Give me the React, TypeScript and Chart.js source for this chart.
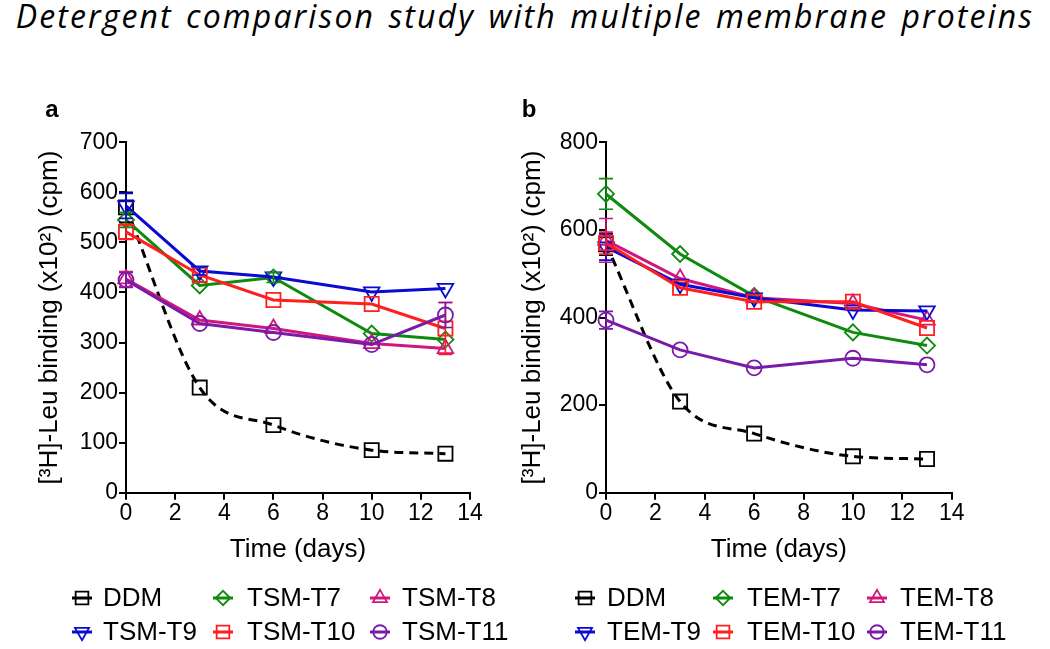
import React, { useEffect, useRef } from "react";
import { Chart, registerables } from "chart.js";
import { drawPoint } from "chart.js/helpers";

Chart.register(...registerables);

// ---------------- DATA ----------------
const days = [0, 3, 6, 10, 13];

const namesA = ["DDM", "TSM-T7", "TSM-T8", "TSM-T9", "TSM-T10", "TSM-T11"];
const namesB = ["DDM", "TEM-T7", "TEM-T8", "TEM-T9", "TEM-T10", "TEM-T11"];

// Panel a (TSM) values, x10^2 cpm
const ddmA = [570, 210, 135, 85, 78];
const tsmT7 = [545, 414, 430, 318, 306];
const tsmT8 = [427, 345, 328, 298, 288];
const tsmT9 = [573, 443, 431, 401, 408];
const tsmT10 = [521, 435, 385, 377, 328];
const tsmT11 = [425, 338, 320, 296, 355];

// Panel a error bars (±)
const ddmAErr = [30, 0, 0, 0, 0];
const tsmT7Err = [15, 0, 10, 0, 0];
const tsmT8Err = [15, 0, 0, 0, 0];
const tsmT9Err = [25, 8, 0, 0, 0];
const tsmT10Err = [15, 0, 0, 0, 52];
const tsmT11Err = [15, 0, 0, 0, 25];

// Panel b (TEM) values
const ddmB = [567, 208, 135, 83, 77];
const temT7 = [682, 545, 449, 366, 336];
const temT8 = [576, 489, 445, 432, 394];
const temT9 = [561, 476, 445, 417, 415];
const temT10 = [570, 468, 436, 436, 376];
const temT11 = [394, 326, 285, 307, 292];

// Panel b error bars (±)
const ddmBErr = [25, 0, 0, 0, 0];
const temT7Err = [35, 0, 0, 0, 0];
const temT8Err = [50, 0, 0, 0, 0];
const temT9Err = [30, 0, 0, 0, 0];
const temT10Err = [25, 0, 0, 0, 0];
const temT11Err = [20, 0, 0, 0, 0];

const xMin = 0;
const xMax = 14;
const xStep = 2;
const yMaxA = 700;
const yStepA = 100;
const yMaxB = 800;
const yStepB = 200;

const titleText = "Detergent comparison study with multiple membrane proteins";
const xTitle = "Time (days)";
const yTitle = "[³H]-Leu binding (x10²) (cpm)";

// ---------------- STYLES ----------------
const FONT = "'Liberation Sans', Arial, sans-serif";
const seriesStyles = [
  { color: "#000000", pointStyle: "rect", radius: 10, rotation: 0, dash: [9, 6], smooth: true },
  { color: "#0e8a0e", pointStyle: "rectRot", radius: 8, rotation: 0, dash: [], smooth: false },
  { color: "#d1167c", pointStyle: "triangle", radius: 9, rotation: 0, dash: [], smooth: false },
  { color: "#0a0ad2", pointStyle: "triangle", radius: 9, rotation: 180, dash: [], smooth: false },
  { color: "#ff1f1f", pointStyle: "rect", radius: 10, rotation: 0, dash: [], smooth: false },
  { color: "#7a1aa8", pointStyle: "circle", radius: 7.5, rotation: 0, dash: [], smooth: false },
];

function buildDatasets(names: string[], values: number[][], errs: number[][]) {
  return names.map((name, i) => {
    const s = seriesStyles[i];
    return {
      label: name,
      data: days.map((d, j) => ({ x: d, y: values[i][j] })),
      errors: errs[i],
      borderColor: s.color,
      borderWidth: 3,
      borderDash: s.dash,
      pointStyle: s.pointStyle,
      pointRadius: s.radius,
      pointRotation: s.rotation,
      pointBorderWidth: 1.8,
      pointBorderColor: s.color,
      pointBackgroundColor: "rgba(0,0,0,0)",
      cubicInterpolationMode: s.smooth ? "monotone" : "default",
      tension: 0,
      clip: false,
      order: 6 - i,
    };
  });
}

const errorBarPlugin = {
  id: "errorBars",
  afterDatasetsDraw(chart: any) {
    const { ctx } = chart;
    const xs = chart.scales.x;
    const ys = chart.scales.y;
    chart.data.datasets.forEach((ds: any) => {
      const errs = ds.errors as number[] | undefined;
      if (!errs) return;
      ctx.save();
      ctx.strokeStyle = ds.borderColor;
      ctx.lineWidth = 1.6;
      ds.data.forEach((pt: any, j: number) => {
        const e = errs[j];
        if (!e) return;
        const x = xs.getPixelForValue(pt.x);
        const y1 = ys.getPixelForValue(pt.y + e);
        const y2 = ys.getPixelForValue(pt.y - e);
        ctx.beginPath();
        ctx.moveTo(x, y1);
        ctx.lineTo(x, y2);
        ctx.moveTo(x - 7, y1);
        ctx.lineTo(x + 7, y1);
        ctx.moveTo(x - 7, y2);
        ctx.lineTo(x + 7, y2);
        ctx.stroke();
      });
      ctx.restore();
    });
  },
};

const customLegendPlugin = {
  id: "customLegend",
  afterDraw(chart: any, _args: any, opts: any) {
    const { ctx } = chart;
    ctx.save();
    // panel letter
    ctx.fillStyle = "#000";
    ctx.font = `bold 24px ${FONT}`;
    ctx.textAlign = "center";
    ctx.textBaseline = "alphabetic";
    ctx.fillText(opts.letter, opts.letterX, opts.letterY);

    chart.data.datasets.forEach((ds: any, i: number) => {
      const row = Math.floor(i / 3);
      const col = i % 3;
      const mx = opts.markerX[col];
      const tx = opts.textX[col];
      const y = opts.rowY[row];
      const s = seriesStyles[i];
      ctx.save();
      ctx.strokeStyle = s.color;
      ctx.lineWidth = 3;
      ctx.setLineDash([]);
      ctx.beginPath();
      ctx.moveTo(mx - 10, y);
      ctx.lineTo(mx + 10, y);
      ctx.stroke();
      ctx.lineWidth = 1.8;
      ctx.fillStyle = "rgba(0,0,0,0)";
      drawPoint(ctx, { pointStyle: s.pointStyle, rotation: s.rotation, radius: s.radius * 0.9, borderWidth: 1.8 } as any, mx, y);
      ctx.restore();
      ctx.fillStyle = "#000";
      ctx.font = `26px ${FONT}`;
      ctx.textAlign = "left";
      ctx.textBaseline = "middle";
      ctx.fillText(ds.label, tx, y + 1);
    });
    ctx.restore();
  },
};

function makeConfig(p: any) {
  return {
    type: "line",
    data: { datasets: p.datasets },
    plugins: [errorBarPlugin, customLegendPlugin],
    options: {
      animation: false,
      responsive: false,
      layout: { padding: { left: 0, right: p.padRight, top: 142.3, bottom: 76.3 } },
      plugins: {
        legend: { display: false },
        tooltip: { enabled: false },
        title: { display: false },
        customLegend: p.legend,
      },
      scales: {
        x: {
          type: "linear",
          min: xMin,
          max: xMax,
          ticks: { stepSize: xStep, color: "#000", font: { family: FONT, size: 23 }, padding: 0, maxRotation: 0, autoSkip: false },
          grid: { display: true, drawOnChartArea: false, drawTicks: true, tickLength: 7, color: "#000", lineWidth: 2 },
          border: { display: true, color: "#000", width: 2 },
          title: { display: true, text: xTitle, color: "#000", font: { family: FONT, size: 26 }, padding: { top: 0, bottom: 7 } },
          afterFit: (s: any) => {
            s.height = 80;
          },
        },
        y: {
          type: "linear",
          min: 0,
          max: p.yMax,
          ticks: { stepSize: p.yStep, color: "#000", font: { family: FONT, size: 23 }, padding: 1 },
          grid: { display: true, drawOnChartArea: false, drawTicks: true, tickLength: 7, color: "#000", lineWidth: 2 },
          border: { display: true, color: "#000", width: 2 },
          title: { display: true, text: yTitle, color: "#000", font: { family: FONT, size: 26 }, padding: { top: p.yTitlePad, bottom: 0 } },
          afterFit: (s: any) => {
            s.width = p.yWidth;
          },
        },
      },
    },
  };
}

function Panel(props: { left: number; width: number; cfg: any }) {
  const ref = useRef<HTMLCanvasElement>(null);
  useEffect(() => {
    if (!ref.current) return;
    const chart = new Chart(ref.current, props.cfg);
    return () => chart.destroy();
  }, []);
  return (
    <canvas
      ref={ref}
      width={props.width}
      height={649}
      style={{ position: "absolute", left: props.left, top: 0, width: props.width, height: 649 }}
    />
  );
}

export default function App() {
  const cfgA = makeConfig({
    datasets: buildDatasets(namesA, [ddmA, tsmT7, tsmT8, tsmT9, tsmT10, tsmT11], [ddmAErr, tsmT7Err, tsmT8Err, tsmT9Err, tsmT10Err, tsmT11Err]),
    padRight: 40,
    yMax: yMaxA,
    yStep: yStepA,
    yWidth: 126,
    yTitlePad: 34,
    legend: { letter: "a", letterX: 52, letterY: 117, markerX: [82, 223, 380], textX: [103, 247, 402], rowY: [598, 632] },
  });
  const cfgB = makeConfig({
    datasets: buildDatasets(namesB, [ddmB, temT7, temT8, temT9, temT10, temT11], [ddmBErr, temT7Err, temT8Err, temT9Err, temT10Err, temT11Err]),
    padRight: 98.3,
    yMax: yMaxB,
    yStep: yStepB,
    yWidth: 96,
    yTitlePad: 7,
    legend: { letter: "b", letterX: 19, letterY: 117, markerX: [75, 213, 367], textX: [97, 237, 390], rowY: [598, 632] },
  });
  return (
    <div style={{ position: "absolute", left: 0, top: 0, width: 1050, height: 649, background: "#fff", overflow: "hidden" }}>
      <div
        style={{
          position: "absolute",
          left: 0,
          top: 0,
          width: 1050,
          textAlign: "center",
          fontFamily: "'Open Sans', sans-serif",
          fontStyle: "italic",
          fontSize: 32,
          letterSpacing: 2.1,
          wordSpacing: 3,
          lineHeight: 1,
          color: "#000",
          whiteSpace: "nowrap",
        }}
      >
        {titleText}
      </div>
      <Panel left={0} width={510} cfg={cfgA} />
      <Panel left={510} width={540} cfg={cfgB} />
    </div>
  );
}
